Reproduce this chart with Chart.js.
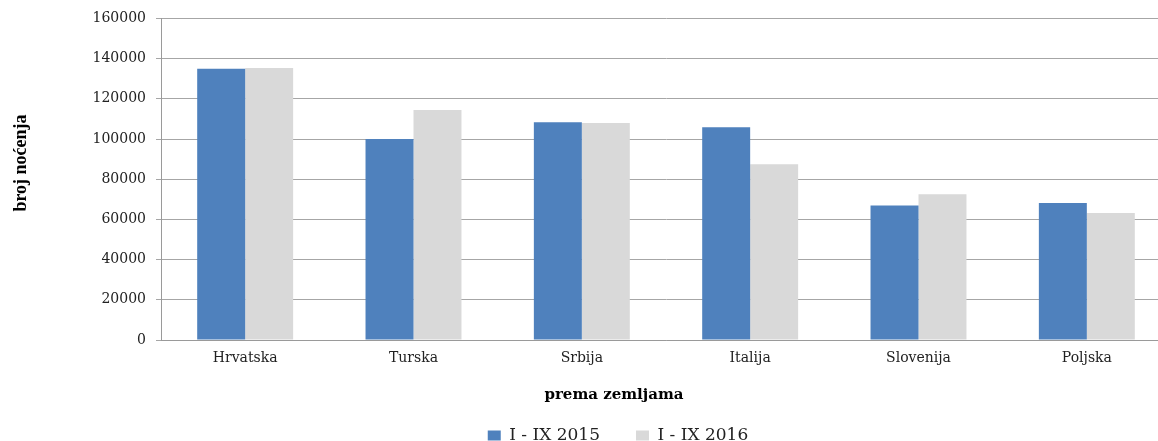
<!DOCTYPE html>
<html lang="hr">
<head>
  <meta charset="UTF-8">
  <title>broj noćenja prema zemljama</title>
  <script src="https://cdn.jsdelivr.net/npm/chart.js"></script>
  <style>
    body {
      margin: 0;
      background-color: #ffffff;
    }

    #wrap {
      width: 1158px;
      height: 441px;
      overflow: hidden;
      position: relative;
    }
  </style>
</head>
<body>

<div id="wrap">
  <canvas id="nightsChart" width="1236" height="441"></canvas>
</div>

<script>
  const categories = ['Hrvatska', 'Turska', 'Srbija', 'Italija', 'Slovenija', 'Poljska'];
  const nights2015 = [135000, 100000, 108300, 105800, 66900, 68200];
  const nights2016 = [135300, 114400, 108000, 87500, 72500, 63200];
  const seriesLabels = ['I - IX 2015', 'I - IX 2016'];
  const yTicks = [0, 20000, 40000, 60000, 80000, 100000, 120000, 140000, 160000];

  const serif = "'DejaVu Serif', 'Liberation Serif', serif";

  // naslovi osi crtani rukom (Excel ih ne centrira po plotu)
  const axisTitles = {
    id: 'axisTitles',
    afterDraw(chart) {
      const ctx = chart.ctx;
      ctx.save();
      ctx.fillStyle = '#000';
      ctx.textAlign = 'center';
      ctx.textBaseline = 'middle';

      ctx.font = "bold 15px " + serif;
      ctx.fillText('prema zemljama', 614, 395);

      ctx.translate(21, 163);
      ctx.rotate(-Math.PI / 2);
      ctx.font = "bold 18px 'Liberation Serif', serif";
      ctx.fillText('broj noćenja', 0, 0);
      ctx.restore();
    }
  };

  const ctx = document.getElementById('nightsChart').getContext('2d');
  new Chart(ctx, {
    type: 'bar',
    data: {
      labels: categories,
      datasets: [
        {
          label: seriesLabels[0],
          data: nights2015,
          backgroundColor: '#4f81bd',
          borderWidth: 0
        },
        {
          label: seriesLabels[1],
          data: nights2016,
          backgroundColor: '#d9d9d9',
          borderWidth: 0
        }
      ]
    },
    options: {
      responsive: false,
      animation: false,
      layout: { padding: { left: 0, right: 0, top: 17, bottom: -13 } },
      datasets: {
        bar: { categoryPercentage: 0.57, barPercentage: 1.0 }
      },
      scales: {
        x: {
          grid: { display: false },
          border: { display: true, color: '#9a9a9a', width: 1 },
          ticks: {
            color: '#222',
            font: { family: serif, size: 14 },
            padding: 2,
            maxRotation: 0
          },
          afterFit(scale) { scale.height = 51; }
        },
        y: {
          min: 0,
          max: 160000,
          afterBuildTicks(scale) {
            scale.ticks = yTicks.map(v => ({ value: v }));
          },
          ticks: {
            color: '#222',
            font: { family: serif, size: 14 },
            padding: 10,
            callback: v => String(v)
          },
          grid: {
            color: '#a6a6a6',
            lineWidth: 1,
            tickLength: 5,
            tickColor: '#a6a6a6'
          },
          border: { display: true, color: '#9a9a9a', width: 1 },
          afterFit(scale) { scale.width = 161; }
        },
        // prazna desna os, samo da rezervira prostor desno od plota
        spacer: {
          position: 'right',
          grid: { display: false },
          border: { display: false },
          ticks: { display: false },
          afterFit(scale) { scale.width = 65; }
        }
      },
      plugins: {
        legend: {
          position: 'bottom',
          labels: {
            color: '#222',
            font: { family: serif, size: 17 },
            boxWidth: 13,
            boxHeight: 10,
            padding: 36
          }
        },
        tooltip: { enabled: false }
      }
    },
    plugins: [axisTitles]
  });
</script>

</body>
</html>
